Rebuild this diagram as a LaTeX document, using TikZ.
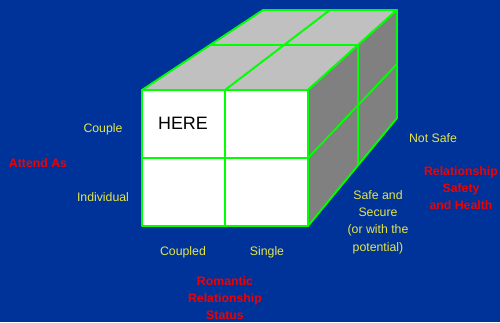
\documentclass[tikz,border=0pt]{standalone}
\usepackage{fontspec}
\setmainfont{Liberation Sans}
\usepackage{tikz}
\usetikzlibrary{positioning}

\definecolor{bgblue}{RGB}{0,51,153}
\definecolor{edgegreen}{RGB}{0,255,0}
\definecolor{lbyellow}{RGB}{230,230,70}
\definecolor{lbred}{RGB}{240,0,0}
\definecolor{topgray}{RGB}{192,192,192}
\definecolor{sidegray}{RGB}{128,128,128}

\begin{document}
\begin{tikzpicture}[x=0.02cm, y=-0.02cm,
  ed/.style={draw=edgegreen, line width=1.1pt, line join=round},
  cat/.style={font=\fontsize{7}{9.9}\selectfont, text=lbyellow, align=center, inner sep=0pt},
  axis/.style={font=\fontsize{7}{9.9}\selectfont\bfseries, text=lbred, align=center, inner sep=0pt}
]
\fill[bgblue] (0,0) rectangle (500,322);
\useasboundingbox (0,0) rectangle (500,322);

% Front face corners
\coordinate (ftl) at (142,90);
\coordinate (ftm) at (225,90);
\coordinate (ftr) at (308,90);
\coordinate (fml) at (142,158);
\coordinate (fmr) at (308,158);
\coordinate (fbl) at (142,226);
\coordinate (fbm) at (225,226);
\coordinate (fbr) at (308,226);
% Back corners
\coordinate (btl) at (263,10);
\coordinate (btm) at (330,10);
\coordinate (btr) at (397,10);
\coordinate (bmr) at (397,64);
\coordinate (bbr) at (397,118);
% Half depth
\coordinate (mtl) at (210,45);
\coordinate (mtr) at (358,45);
\coordinate (mbr) at (358,166);

% Top and side faces
\filldraw[ed, fill=topgray] (ftl) -- (btl) -- (btr) -- (ftr) -- cycle;
\filldraw[ed, fill=sidegray] (ftr) -- (btr) -- (bbr) -- (fbr) -- cycle;
\draw[ed] (ftm) -- (btm);
\draw[ed] (mtl) -- (mtr) -- (mbr);
\draw[ed] (fmr) -- (bmr);

% Front face
\filldraw[ed, fill=white] (ftl) rectangle (fbr);
\draw[ed] (ftm) -- (fbm);
\draw[ed] (fml) -- (fmr);

\node[font=\fontsize{10.2}{12}\selectfont, inner sep=0pt] (here) at (183,123) {HERE};

% Labels on the left
\node[cat] (couple) at (103,129) {Couple};
\node[cat] (indiv) at (103,197) {Individual};
\node[axis] (attend) at (38,163) {Attend As};

% Labels below
\node[cat] (coupled) at (183,252) {Coupled};
\node[cat] (single) at (267,252) {Single};
\node[axis] (romantic) at (225,298) {Romantic\\Relationship\\Status};

% Labels on the right
\node[cat] (notsafe) at (433,138) {Not Safe};
\node[cat] (safe) at (378,222) {Safe and\\Secure\\(or with the\\potential)};
\node[axis] (health) at (461,188) {Relationship\\Safety\\and Health};
\end{tikzpicture}
\end{document}
